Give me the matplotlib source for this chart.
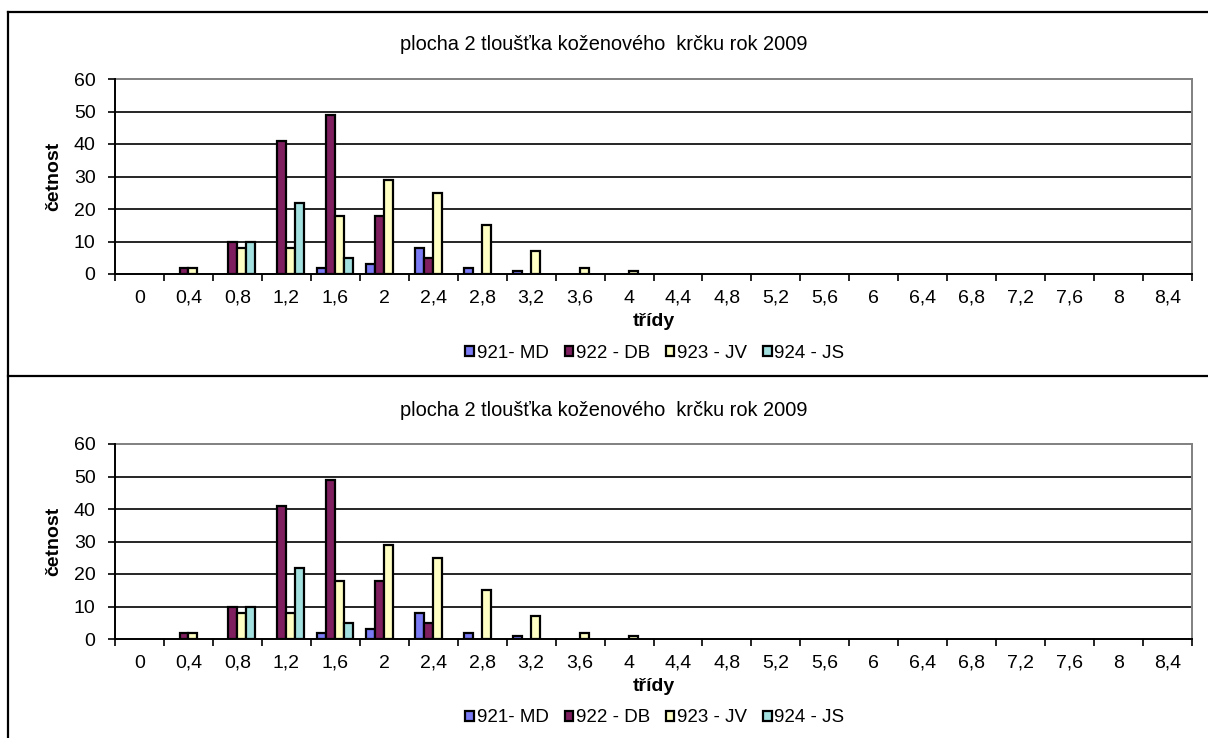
import matplotlib
matplotlib.use("Agg")
import matplotlib.pyplot as plt
from matplotlib.patches import Patch
from matplotlib.lines import Line2D
import numpy as np

plt.rcParams['font.family'] = ['Liberation Sans', 'DejaVu Sans']

categories = ["0", "0,4", "0,8", "1,2", "1,6", "2", "2,4", "2,8", "3,2", "3,6", "4",
              "4,4", "4,8", "5,2", "5,6", "6", "6,4", "6,8", "7,2", "7,6", "8", "8,4"]
md_921 = [0, 0, 0, 0, 2, 3, 8, 2, 1, 0, 0, 0, 0, 0, 0, 0, 0, 0, 0, 0, 0, 0]
db_922 = [0, 2, 10, 41, 49, 18, 5, 0, 0, 0, 0, 0, 0, 0, 0, 0, 0, 0, 0, 0, 0, 0]
jv_923 = [0, 2, 8, 8, 18, 29, 25, 15, 7, 2, 1, 0, 0, 0, 0, 0, 0, 0, 0, 0, 0, 0]
js_924 = [0, 0, 10, 22, 5, 0, 0, 0, 0, 0, 0, 0, 0, 0, 0, 0, 0, 0, 0, 0, 0, 0]
series_labels = ["921- MD", "922 - DB", "923 - JV", "924 - JS"]
series_colors = ["#7B7BF5", "#7F1F5F", "#FFFFC4", "#A2DFDF"]
title_text = "plocha 2 tloušťka koženového  krčku rok 2009"
y_ticks = [0, 10, 20, 30, 40, 50, 60]

W, H = 1208, 738
fig = plt.figure(figsize=(W / 100, H / 100), dpi=100)


def fx(px):
    return px / W


def fy(py):
    return 1 - py / H


def draw_chart(offset):
    left, right = 115, 1192
    top, bottom = 79 + offset, 274 + offset
    ax = fig.add_axes([fx(left), fy(bottom), fx(right - left), (bottom - top) / H])
    series = [md_921, db_922, jv_923, js_924]
    n = len(categories)
    x = np.arange(n)
    w = 1 / 5.5
    for k, (vals, col) in enumerate(zip(series, series_colors)):
        vals = np.array(vals, dtype=float)
        mask = vals > 0
        ax.bar(x[mask] + (k - 1.5) * w, vals[mask], width=w, color=col,
               edgecolor="black", linewidth=1.6, zorder=3)
    ax.set_xlim(-0.5, n - 0.5)
    ax.set_ylim(0, 60)
    ax.set_yticks(y_ticks)
    ax.set_yticklabels([str(v) for v in y_ticks], fontsize=14)
    for v in y_ticks[1:-1]:
        ax.axhline(v, color="black", linewidth=1.2, zorder=1)
    ax.set_xticks(x)
    ax.set_xticklabels(categories, fontsize=14)
    ax.set_xticks(np.arange(n + 1) - 0.5, minor=True)
    ax.tick_params(axis="x", which="major", length=0, pad=11.5)
    ax.tick_params(axis="x", which="minor", length=5, width=1.2, direction="out")
    ax.tick_params(axis="y", length=5, width=1.2, direction="out", pad=9)
    for s in ("left", "bottom"):
        ax.spines[s].set_color("black")
        ax.spines[s].set_linewidth(1.4)
        ax.spines[s].set_zorder(4)
    for s in ("top", "right"):
        ax.spines[s].set_color("#808080")
        ax.spines[s].set_linewidth(1.4)
    ax.set_xlabel("třídy", fontsize=14, fontweight="bold", labelpad=4)
    ax.set_ylabel("četnost", fontsize=14, fontweight="bold", va="center")
    ax.yaxis.set_label_coords((54 - left) / (right - left), 0.5)
    fig.text(fx(604), fy(45 + offset), title_text, ha="center", va="center", fontsize=14.4)
    handles = [Patch(facecolor=c, edgecolor="black", linewidth=1.6) for c in series_colors]
    fig.legend(handles, series_labels, loc="center", bbox_to_anchor=(fx(655), fy(353 + offset)),
               ncol=4, frameon=False, fontsize=13.5, handlelength=0.45, handleheight=0.45,
               handletextpad=0.15, columnspacing=0.85, borderpad=0)
    return ax


draw_chart(0)
draw_chart(365)

# outer chart frames
frame_kw = dict(color="black", linewidth=1.6, transform=fig.transFigure)
fig.add_artist(Line2D([fx(8), 1], [fy(12), fy(12)], **frame_kw))
fig.add_artist(Line2D([fx(8), fx(8)], [fy(12), 0], **frame_kw))
fig.add_artist(Line2D([fx(8), 1], [fy(376), fy(376)], **frame_kw))

fig.savefig("out.png", dpi=100, facecolor="white")
